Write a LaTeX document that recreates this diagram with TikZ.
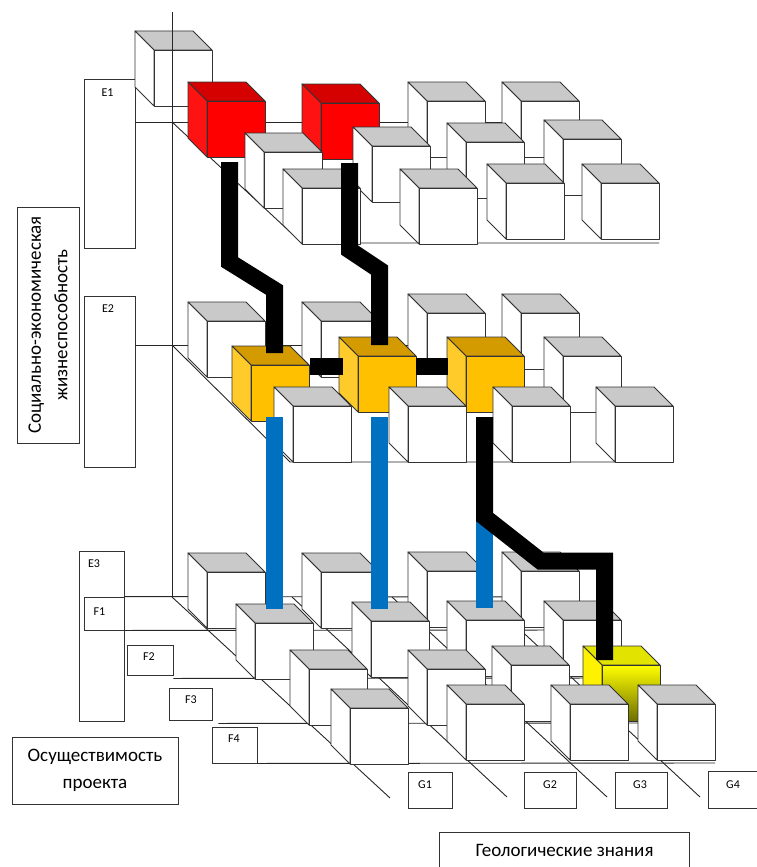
\documentclass[tikz,border=0pt]{standalone}
\usepackage{fontspec}
\setmainfont{Carlito}
\usetikzlibrary{calc}

\definecolor{linkblue}{HTML}{0070C0}
\definecolor{rdtop}{HTML}{D50000}
\definecolor{rdside}{HTML}{FF1212}
\definecolor{ortop}{HTML}{D49B00}
\definecolor{orside}{HTML}{FFCB2B}
\definecolor{orfront}{HTML}{FFC000}
\definecolor{yetop}{HTML}{E3E300}
\definecolor{yedark}{HTML}{6E6E00}

\newcommand{\cubeat}[4]{%
  \coordinate (#1) at (#2,#3);
  \draw[cubeedge,#4top] (#1) -- ++(58,0) -- ++(19,19) -- ++(-58,0) -- cycle;
  \draw[cubeedge,#4side] (#1) -- ++(19,19) -- ++(0,56) -- ++(-19,-19) -- cycle;
  \draw[cubeedge,#4front] ($(#1)+(19,19)$) rectangle ++(58,56);
}

\begin{document}
\begin{tikzpicture}[x=1pt, y=-1pt,
  cubeedge/.style={draw=black!80, line width=0.9pt, line join=round},
  floorline/.style={draw=black!85, line width=0.9pt},
  labelbox/.style={draw=black!80, line width=0.9pt, inner sep=0pt},
  tag/.style={font=\fontsize{12}{14}\selectfont, inner sep=0pt},
  titlebox/.style={labelbox, font=\fontsize{19}{26.5}\selectfont, align=center},
  link/.style={line width=17pt, line join=miter},
  blacklink/.style={link, draw=black},
  bluelink/.style={link, draw=linkblue},
  greytop/.style={fill=black!21}, greyside/.style={fill=white}, greyfront/.style={fill=white},
  redtop/.style={fill=rdtop}, redside/.style={fill=rdside}, redfront/.style={fill=red},
  orangetop/.style={fill=ortop}, orangeside/.style={fill=orside}, orangefront/.style={fill=orfront},
  yellowtop/.style={fill=yetop}, yellowside/.style={fill=yellow},
  yellowfront/.style={top color=yellow, bottom color=yedark}]
\useasboundingbox (0,0) rectangle (757,867);

% axis titles
\node[titlebox, rotate=90, minimum width=236, minimum height=62] (sev) at (48,325)
  {Социально-экономическая\\жизнеспособность};
\node[titlebox, minimum width=166, minimum height=67] (osu) at (95,770.5) {Осуществимость\\проекта};
\node[titlebox, draw=none, minimum width=249, minimum height=34] (geo) at (564.5,850) {Геологические знания};
\draw[labelbox] (geo.south west) -- (geo.north west) -- (geo.north east) -- (geo.south east);

% level boxes
\node[labelbox, minimum width=51, minimum height=169] (E1) at (109.5,163.5) {};
\node[tag] at ($(E1.north)+(-2,14)$) {E1};
\node[labelbox, minimum width=51, minimum height=171] (E2) at (109.5,381.5) {};
\node[tag] at ($(E2.north)+(-1.5,13)$) {E2};
\node[labelbox, minimum width=45, minimum height=170] (E3) at (101.5,636) {};
\node[tag] at ($(E3.north)+(-7.5,13)$) {E3};
\foreach \f/\x/\y/\w/\h/\dx/\dy in {1/104/613.5/40/33/-4.5/-1.5, 2/150/660/46/30/-1/-3,
  3/190.5/704/43/32/0.5/-4, 4/234.5/745/45/36/-0.5/-6} {
  \node[labelbox, minimum width=\w, minimum height=\h] (F\f) at (\x,\y) {};
  \node[tag] at ($(F\f.center)+(\dx,\dy)$) {F\f};
}
\foreach \g/\x/\w/\dx in {1/430/44/-5, 2/550/52/0, 3/641/52/-1} {
  \node[labelbox, minimum width=\w, minimum height=36] (G\g) at (\x,790) {};
  \node[tag] at ($(G\g.center)+(\dx,-5)$) {G\g};
}
\node[labelbox, draw=none, minimum width=49, minimum height=36] (G4) at (733,790) {};
\draw[labelbox] (G4.north east) -- (G4.north west) -- (G4.south west) -- (G4.south east);
\node[tag] at ($(G4.center)+(0,-5)$) {G4};

\cubeat{t0}{135}{31}{grey}

% axes and floors
\coordinate (top) at (172,12);
\coordinate (o1) at (172,122);
\coordinate (o2) at (172,345);
\coordinate (o3) at (172,597);
\draw[floorline] (top) -- (o3);
\draw[floorline] (E1.east |- o1) -- (580,122);
\draw[floorline] (o1) -- (302,243) -- (659,243);
\draw[floorline] (E2.east |- o2) -- (580,345);
\draw[floorline] (o2) -- (290,462) -- (673,462);
\draw[floorline] (F1.north east) -- (580,597);
\draw[floorline] (F1.south east) -- (580,630);
\draw[floorline] ($(F2.south east)+(0,3)$) -- (621,678);
\draw[floorline] ($(F3.south east)+(6,3)$) -- (660,723);
\draw[floorline] (F4.south east) -- (715,763);
\draw[floorline] (o3) -- (390,798);
\foreach \x in {292,392,485}
  \draw[floorline] (\x,597) -- ++(215,200);

% E1 level
\foreach \n/\x/\y/\col in {11/188/82/red, 12/302/84/red, 13/408/82/grey, 14/502/82/grey,
  21/245/133/grey, 22/353/127/grey, 23/447/123/grey, 24/544/120/grey,
  31/283/169/grey, 32/400/169/grey, 33/487/164/grey, 34/582/164/grey}
  {\cubeat{t\n}{\x}{\y}{\col}}

% E2 level
\foreach \n/\x/\y/\col in {11/188/302/grey, 12/302/302/grey, 13/408/294/grey, 14/502/294/grey,
  21/232/346/orange, 22/339/337/orange, 23/447/337/orange, 24/544/337/grey,
  31/274/387/grey, 32/389/387/grey, 33/493/387/grey, 34/596/387/grey}
  {\cubeat{m\n}{\x}{\y}{\col}}

% E3 level
\foreach \n/\x/\y/\col in {11/188/553/grey, 12/302/553/grey, 13/408/552/grey, 14/502/552/grey,
  21/236/604/grey, 22/352/602/grey, 23/447/601/grey, 24/544/601/grey,
  31/290/650/grey, 32/408/650/grey, 33/492/646/grey, 34/583/646/yellow,
  41/331/689/grey, 42/447/685/grey, 43/551/685/grey, 44/638/685/grey}
  {\cubeat{b\n}{\x}{\y}{\col}}

% links
\coordinate (bend) at ($(m23)+(37.5,180)$);
\draw[bluelink] ($(m21)+(42.5,71)$) -- ($(b21)+(38.5,5)$);
\draw[bluelink] ($(m22)+(40.5,80)$) -- ($(b22)+(27.5,7)$);
\draw[bluelink] (bend) -- ($(b23)+(37.5,7)$);
\draw[blacklink] ($(t11)+(41.5,80)$) -- ++(0,100) -- ++(45,28) -- ($(m21)+(42.5,7)$);
\draw[blacklink] ($(t12)+(47.5,79)$) -- ++(0,87) -- ++(30,20) -- ($(m22)+(40.5,8)$);
\draw[blacklink] ($(m21)+(78,20)$) -- ($(m22)+(4,29)$);
\draw[blacklink] ($(m22)+(77,29)$) -- ($(m23)+(1,29)$);
\draw[blacklink] ($(m23)+(37.5,80)$) -- (bend) -- ++(56,44) -- ++(64,0) -- ($(b34)+(21.5,14)$);
\end{tikzpicture}
\end{document}
